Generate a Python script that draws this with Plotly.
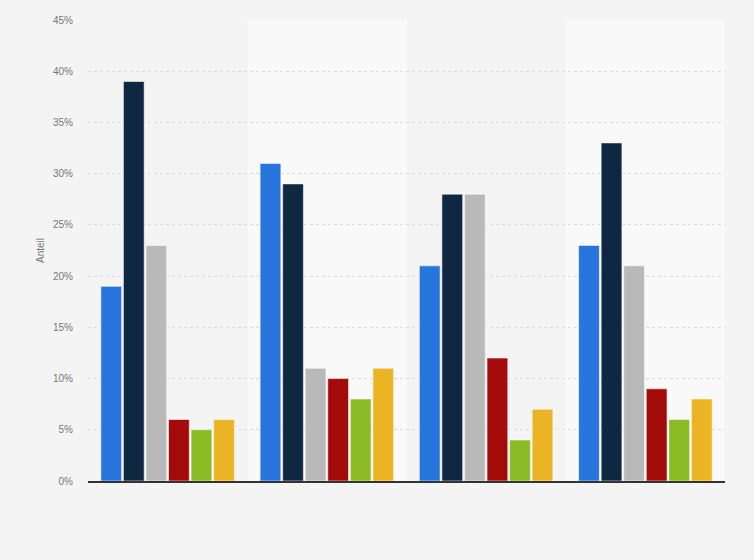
import plotly.graph_objects as go

# Gruppen (keine Beschriftung im Original sichtbar)
categories = ["Gruppe 1", "Gruppe 2", "Gruppe 3", "Gruppe 4"]
series_names = ["Serie 1", "Serie 2", "Serie 3", "Serie 4", "Serie 5", "Serie 6"]
colors = ["#2876dd", "#0f2740", "#b9b9b9", "#a30b0b", "#8aba24", "#eab424"]

serie_1 = [19, 31, 21, 23]
serie_2 = [39, 29, 28, 33]
serie_3 = [23, 11, 28, 21]
serie_4 = [6, 10, 12, 9]
serie_5 = [5, 8, 4, 6]
serie_6 = [6, 11, 7, 8]
values = [serie_1, serie_2, serie_3, serie_4, serie_5, serie_6]

y_ticks = [0, 5, 10, 15, 20, 25, 30, 35, 40, 45]
y_labels = [f"{t}%" for t in y_ticks]

fig = go.Figure()
for name, vals, col in zip(series_names, values, colors):
    fig.add_trace(go.Bar(
        x=categories, y=vals, name=name,
        marker=dict(color=col, line=dict(color="rgba(255,255,255,0.55)", width=1)),
        hovertemplate="%{y}%<extra>" + name + "</extra>",
    ))

# helle Hintergrundstreifen hinter jeder zweiten Gruppe
shapes = []
for i in range(len(categories)):
    if i % 2 == 1:
        shapes.append(dict(type="rect", xref="x", yref="paper",
                           x0=i - 0.5, x1=i + 0.5, y0=0, y1=1,
                           fillcolor="#f9f9f9", line_width=0, layer="below"))

fig.update_layout(
    width=754, height=560,
    margin=dict(l=88, r=29, t=20, b=79),
    paper_bgcolor="#f4f4f4",
    plot_bgcolor="#f4f4f4",
    barmode="group",
    bargap=0.15,
    bargroupgap=0.08,
    showlegend=False,
    shapes=shapes,
    font=dict(family="Liberation Sans, Arial, sans-serif", size=10, color="#777777"),
    xaxis=dict(
        showticklabels=False, showgrid=False, zeroline=False,
        showline=True, linecolor="#333333", linewidth=1.5,
        range=[-0.5, 3.5], fixedrange=True,
    ),
    yaxis=dict(
        range=[0, 45], tickvals=y_ticks, ticktext=y_labels,
        showgrid=True, gridcolor="#dcdcdc", griddash="dot", gridwidth=1,
        zeroline=False, ticks="", ticklabelstandoff=14,
        title=dict(text="Anteil", font=dict(size=10, color="#777777"), standoff=6),
        fixedrange=True,
    ),
)

# Seitenrand entfernen, damit die Grafik bündig im Fenster sitzt
fig.write_html(
    "out.html",
    config={"displayModeBar": False},
    post_script="document.body.style.margin='0';document.body.style.background='#f4f4f4';",
)
